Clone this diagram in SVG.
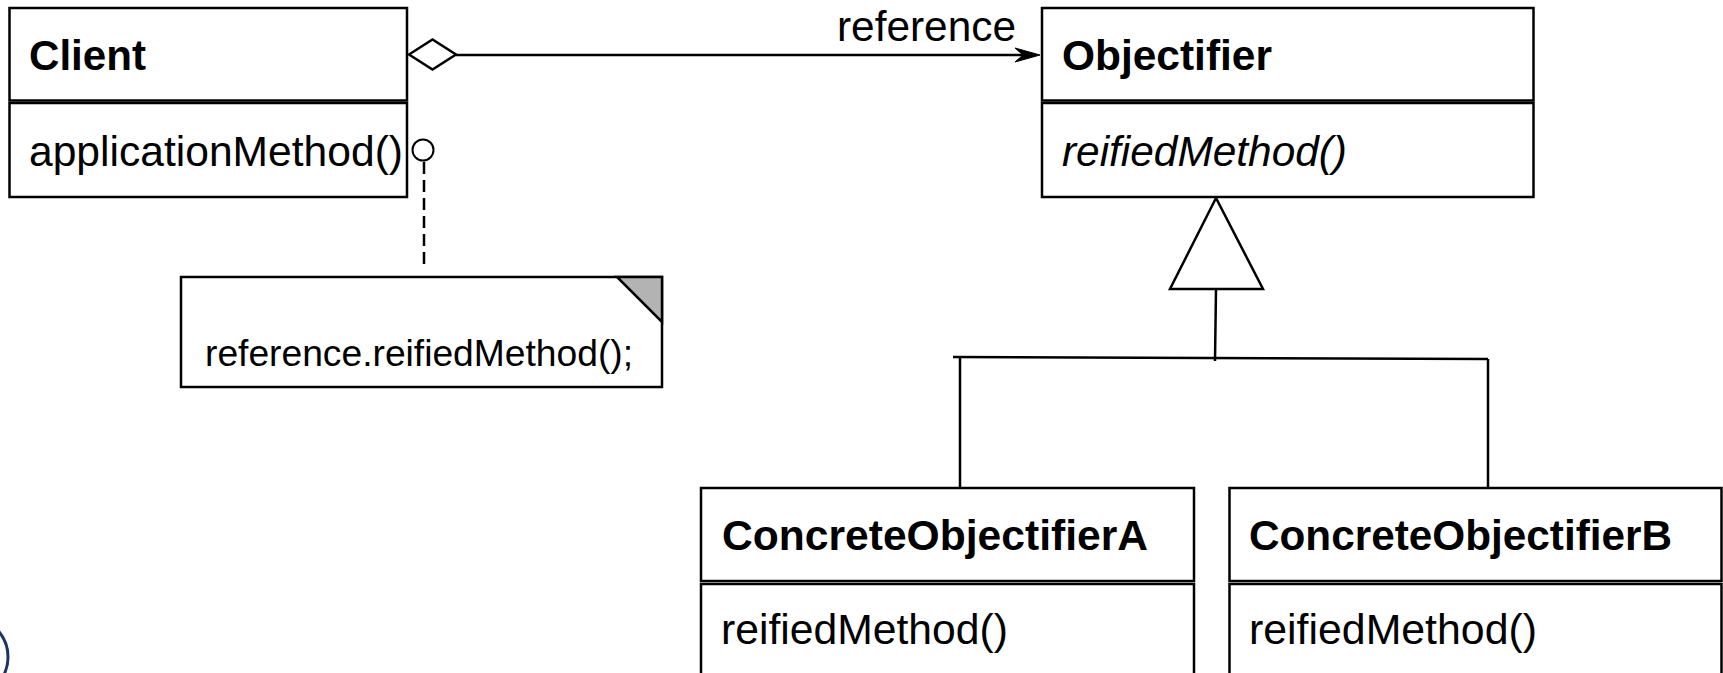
<svg xmlns="http://www.w3.org/2000/svg" width="1723" height="673" viewBox="0 0 1723 673">
<defs>
<style>
.box{fill:#fff;stroke:#000;stroke-width:2.5}
.ln{fill:none;stroke:#000;stroke-width:2.5}
.t{font-family:"Liberation Sans",Arial,sans-serif;font-size:42px;fill:#000}
.b{font-weight:bold}
.i{font-style:italic}
</style>
</defs>
<rect width="1723" height="673" fill="#fff"/>
<g id="connectors">
<line class="ln" x1="456" y1="55" x2="1024" y2="55"/>
<polygon points="1040,55 1015,48 1023,55 1015,62" fill="#000" stroke="#000" stroke-width="1"/>
<text class="t" x="837" y="41" textLength="179" lengthAdjust="spacingAndGlyphs">reference</text>
<line class="ln" x1="424" y1="162" x2="424" y2="270" stroke-dasharray="12,6"/>
<polygon class="ln" points="1216,198 1170,289 1263,289" style="fill:#fff"/>
<line class="ln" x1="1216" y1="289" x2="1215" y2="361"/>
<line class="ln" x1="953" y1="357" x2="1488" y2="359"/>
<line class="ln" x1="960" y1="357" x2="960" y2="488"/>
<line class="ln" x1="1488" y1="359" x2="1488" y2="488"/>
</g>
<g id="client">
<rect class="box" x="9.5" y="8" width="397.5" height="92.5"/>
<rect class="box" x="9.5" y="103" width="397.5" height="94"/>
<text class="t b" x="29" y="70" textLength="117" lengthAdjust="spacingAndGlyphs">Client</text>
<text class="t" x="29" y="166" textLength="374" lengthAdjust="spacingAndGlyphs">applicationMethod()</text>
<polygon class="ln" points="409,54.5 432.5,39.5 456,54.5 432.5,69.5" style="fill:#fff"/>
<circle class="ln" cx="423" cy="150" r="10.5" style="fill:#fff;stroke-width:2"/>
</g>
<g id="objectifier">
<rect class="box" x="1042" y="8" width="491.5" height="92.5"/>
<rect class="box" x="1042" y="103" width="491.5" height="94"/>
<text class="t b" x="1062" y="70" textLength="210" lengthAdjust="spacingAndGlyphs">Objectifier</text>
<text class="t i" x="1062" y="166" textLength="285" lengthAdjust="spacingAndGlyphs">reifiedMethod()</text>
</g>
<g id="note">
<rect class="box" x="181" y="277" width="481" height="110"/>
<polygon points="617,277 662,277 662,322" fill="#b3b3b3" stroke="#000" stroke-width="2.5" stroke-linejoin="miter"/>
<text class="t" x="205" y="366" style="font-size:37px" textLength="428" lengthAdjust="spacingAndGlyphs">reference.reifiedMethod();</text>
</g>
<g id="concreteA">
<rect class="box" x="701" y="488" width="493" height="93"/>
<rect class="box" x="701" y="584" width="493" height="120"/>
<text class="t b" x="722" y="550" textLength="426" lengthAdjust="spacingAndGlyphs">ConcreteObjectifierA</text>
<text class="t" x="721" y="644" textLength="287" lengthAdjust="spacingAndGlyphs">reifiedMethod()</text>
</g>
<g id="concreteB">
<rect class="box" x="1229.5" y="488" width="492" height="93"/>
<rect class="box" x="1229.5" y="584" width="492" height="120"/>
<text class="t b" x="1249" y="550" textLength="423" lengthAdjust="spacingAndGlyphs">ConcreteObjectifierB</text>
<text class="t" x="1249" y="644" textLength="288" lengthAdjust="spacingAndGlyphs">reifiedMethod()</text>
</g>
<g id="logo">
<circle cx="-32" cy="657" r="40" fill="none" stroke="#1b3462" stroke-width="3"/>
</g>
</svg>
